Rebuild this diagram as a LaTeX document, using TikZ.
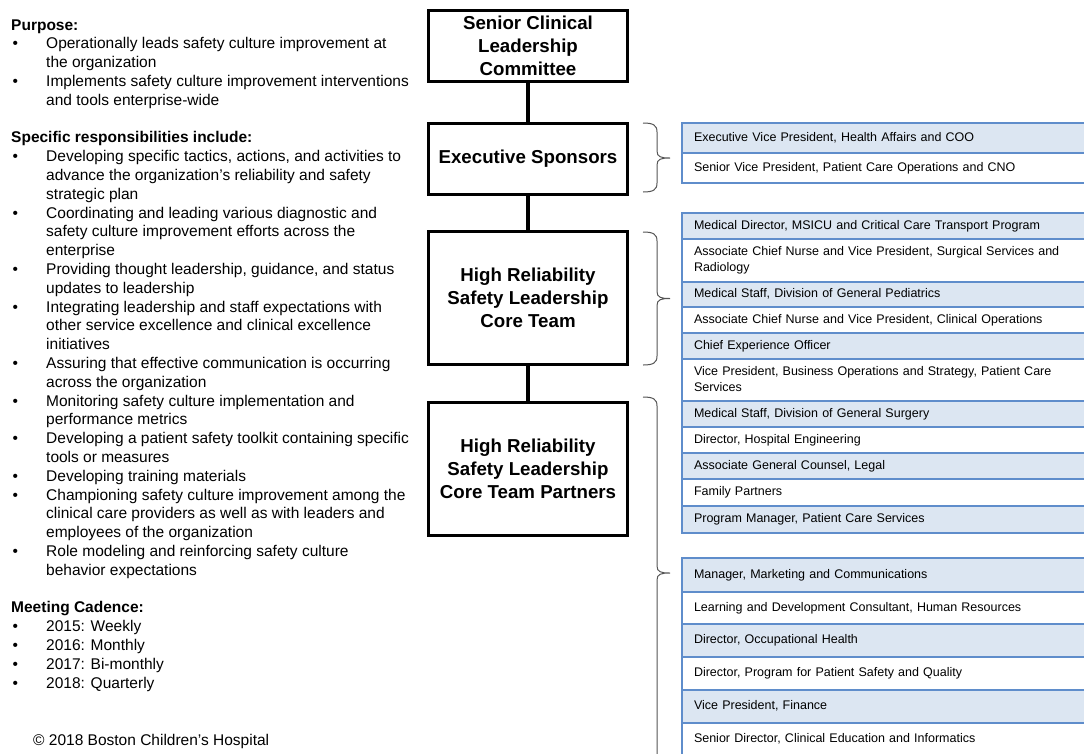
\documentclass[tikz,border=0pt]{standalone}
\usepackage{fontspec}
\setmainfont{Liberation Sans}
\definecolor{tblue}{HTML}{5F8DCB}
\definecolor{tshade}{HTML}{DCE6F2}
\definecolor{bracegray}{HTML}{555555}
\newcommand\bitem{\makebox[35pt][l]{\hspace{1.5pt}•}}
\newcommand\bcont{\makebox[35pt]{}}
\newcommand\orgbrace[3]{\draw[brc] (643,#1) .. controls (653,#1) and (657,#1+2) .. (657,#1+9) -- (657,#2-7) .. controls (657,#2-1) and (661,#2) .. (670,#2) .. controls (661,#2) and (657,#2+1) .. (657,#2+7) -- (657,#3-9) .. controls (657,#3-2) and (653,#3) .. (643,#3);}
\begin{document}
\begin{tikzpicture}[x=1pt,y=-1pt,
  orgbox/.style={draw=black, line width=2.7pt, minimum width=199.3pt, inner sep=0pt, align=center, font=\fontsize{18.7}{23.3}\selectfont\bfseries},
  conn/.style={line width=4.6pt},
  brc/.style={draw=bracegray, line width=1pt},
  rowcell/.style={draw=tblue, line width=1.3pt, outer sep=0pt, inner xsep=12pt, inner ysep=0pt, text width=400pt, align=left, anchor=north west, minimum height=#1, font=\fontsize{12.5}{16}\selectfont},
  shade/.style={fill=tshade},
  lefttext/.style={anchor=north west, inner sep=0pt, align=left, font=\fontsize{15.5}{18.8}\selectfont}]
\useasboundingbox (0,0) rectangle (1084,753);
\clip (0,0) rectangle (1084,753);
\fill[white] (0,0) rectangle (1084,753);

% left description
\node[lefttext] (desc) at (11,19.3) {\textbf{Purpose:}\\
\bitem Operationally leads safety culture improvement at\\
\bcont the organization\\
\bitem Implements safety culture improvement interventions\\
\bcont and tools enterprise-wide\\[18.8pt]
\textbf{Specific responsibilities include:}\\
\bitem Developing specific tactics, actions, and activities to\\
\bcont advance the organization’s reliability and safety\\
\bcont strategic plan\\
\bitem Coordinating and leading various diagnostic and\\
\bcont safety culture improvement efforts across the\\
\bcont enterprise\\
\bitem Providing thought leadership, guidance, and status\\
\bcont updates to leadership\\
\bitem Integrating leadership and staff expectations with\\
\bcont other service excellence and clinical excellence\\
\bcont initiatives\\
\bitem Assuring that effective communication is occurring\\
\bcont across the organization\\
\bitem Monitoring safety culture implementation and\\
\bcont performance metrics\\
\bitem Developing a patient safety toolkit containing specific\\
\bcont tools or measures\\
\bitem Developing training materials\\
\bitem Championing safety culture improvement among the\\
\bcont clinical care providers as well as with leaders and\\
\bcont employees of the organization\\
\bitem Role modeling and reinforcing safety culture\\
\bcont behavior expectations\\[18.8pt]
\textbf{Meeting Cadence:}\\
\bitem 2015: Weekly\\
\bitem 2016: Monthly\\
\bitem 2017: Bi-monthly\\
\bitem 2018: Quarterly};
\node[anchor=base west, inner sep=0pt, font=\fontsize{15.5}{18.8}\selectfont] (copy) at (33,745) {© 2018 Boston Children’s Hospital};

% hierarchy boxes
\node[orgbox, minimum height=71.3pt] (b1) at (528,46) {\raisebox{-1.5pt}{Senior Clinical}\\\raisebox{-1.5pt}{Leadership}\\\raisebox{-1.5pt}{Committee}};
\node[orgbox, minimum height=71.3pt] (b2) at (528,159) {Executive Sponsors};
\node[orgbox, minimum height=133.3pt] (b3) at (528,298) {High Reliability\\Safety Leadership\\Core Team};
\node[orgbox, minimum height=133.3pt] (b4) at (528,469) {High Reliability\\Safety Leadership\\Core Team Partners};
\draw[conn] (b1.south) -- (b2.north);
\draw[conn] (b2.south) -- (b3.north);
\draw[conn] (b3.south) -- (b4.north);

% braces
\orgbrace{123}{158}{192}
\orgbrace{232}{298.5}{365}
\orgbrace{397}{573}{765}

% table 1
\node[rowcell=30pt, shade] (e1) at (682,123) {\strut Executive Vice President, Health Affairs and COO};
\node[rowcell=30pt] (e2) at (682,153) {\strut Senior Vice President, Patient Care Operations and CNO};

% table 2
\node[rowcell=26pt, shade] (c1) at (682,213) {\strut Medical Director, MSICU and Critical Care Transport Program};
\node[rowcell=43pt] (c2) at (682,239) {\strut Associate Chief Nurse and Vice President, Surgical Services and\\Radiology\strut};
\node[rowcell=25pt, shade] (c3) at (682,282) {\strut Medical Staff, Division of General Pediatrics};
\node[rowcell=26pt] (c4) at (682,307) {\strut Associate Chief Nurse and Vice President, Clinical Operations};
\node[rowcell=26pt, shade] (c5) at (682,333) {\strut Chief Experience Officer};
\node[rowcell=42pt] (c6) at (682,359) {\strut Vice President, Business Operations and Strategy, Patient Care\\Services\strut};
\node[rowcell=26pt, shade] (p1) at (682,401) {\strut Medical Staff, Division of General Surgery};
\node[rowcell=26pt] (p2) at (682,427) {\strut Director, Hospital Engineering};
\node[rowcell=26pt, shade] (p3) at (682,453) {\strut Associate General Counsel, Legal};
\node[rowcell=27pt] (p4) at (682,479) {\strut Family Partners};
\node[rowcell=27pt, shade] (p5) at (682,506) {\strut Program Manager, Patient Care Services};

% table 3
\node[rowcell=34pt, shade] (q1) at (682,558) {\strut Manager, Marketing and Communications};
\node[rowcell=32pt] (q2) at (682,592) {\strut Learning and Development Consultant, Human Resources};
\node[rowcell=33pt, shade] (q3) at (682,624) {\strut Director, Occupational Health};
\node[rowcell=33pt] (q4) at (682,657) {\strut Director, Program for Patient Safety and Quality};
\node[rowcell=33pt, shade] (q5) at (682,690) {\strut Vice President, Finance};
\node[rowcell=33pt] (q6) at (682,723) {\strut Senior Director, Clinical Education and Informatics};
\end{tikzpicture}
\end{document}
